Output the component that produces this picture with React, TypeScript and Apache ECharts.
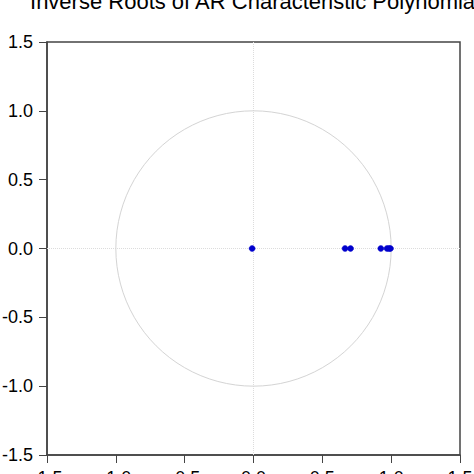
import React, { useEffect, useRef } from "react";
import * as echarts from "echarts";

const chartTitle = "Inverse Roots of AR Characteristic Polynomial";
const rootReal = [-0.01, 0.665, 0.705, 0.925, 0.97, 0.985, 0.995];
const rootImag = [0, 0, 0, 0, 0, 0, 0];
const axisTicks = [-1.5, -1.0, -0.5, 0.0, 0.5, 1.0, 1.5];

const FONT = "'Liberation Sans', Arial, sans-serif";

const App: React.FC = () => {
  const chartRef = useRef<HTMLDivElement>(null);

  useEffect(() => {
    if (!chartRef.current) return;
    const chart = echarts.init(chartRef.current, undefined, { renderer: "svg" });

    const axisCommon = {
      type: "value",
      min: axisTicks[0],
      max: axisTicks[axisTicks.length - 1],
      interval: 0.5,
      axisLine: { show: true, onZero: false, lineStyle: { color: "#444", width: 1.5 } },
      axisTick: { show: true, inside: false, length: 8, lineStyle: { color: "#444", width: 1 } },
      axisLabel: {
        color: "#000",
        fontSize: 18,
        fontFamily: FONT,
        formatter: (v: number) => v.toFixed(1),
      },
      splitLine: { show: false },
    };

    const option = {
      animation: false,
      backgroundColor: "#fff",
      graphic: [
        {
          type: "text",
          x: 255,
          y: 1,
          style: {
            text: chartTitle,
            font: `22px ${FONT}`,
            fill: "#000",
            align: "center",
            verticalAlign: "middle",
          },
        },
      ],
      grid: {
        show: true,
        left: 47,
        top: 42,
        width: 413,
        height: 413,
        containLabel: false,
        outerBoundsMode: "none",
        borderColor: "#444",
        borderWidth: 1.5,
        backgroundColor: "#fff",
      },
      xAxis: {
        ...axisCommon,
        axisLabel: { ...axisCommon.axisLabel, margin: 14 },
      },
      yAxis: {
        ...axisCommon,
        axisLabel: { ...axisCommon.axisLabel, margin: 14 },
      },
      series: [
        {
          type: "custom",
          silent: true,
          data: [[0, 0]],
          renderItem: (_params: any, api: any) => {
            const c = api.coord([0, 0]);
            const s = api.size([1, 1]);
            return {
              type: "circle",
              shape: { cx: c[0], cy: c[1], r: s[0] },
              style: { fill: "none", stroke: "#d4d4d4", lineWidth: 1 },
            };
          },
          markLine: {
            silent: true,
            z: 1,
            symbol: "none",
            label: { show: false },
            lineStyle: { color: "#dcdcdc", width: 1, type: "dotted" },
            data: [{ xAxis: 0 }, { yAxis: 0 }],
          },
          z: 1,
        },
        {
          type: "scatter",
          symbol: "circle",
          symbolSize: 6,
          itemStyle: { color: "#0000cc", opacity: 1, borderWidth: 0.5, borderColor: "#0000cc" },
          data: rootReal.map((r, i) => [r, rootImag[i]]),
          z: 10,
        },
      ],
    };

    chart.setOption(option);
    return () => {
      chart.dispose();
    };
  }, []);

  return (
    <div
      ref={chartRef}
      style={{ position: "fixed", left: 0, top: 0, width: 474, height: 474 }}
    />
  );
};

export default App;
